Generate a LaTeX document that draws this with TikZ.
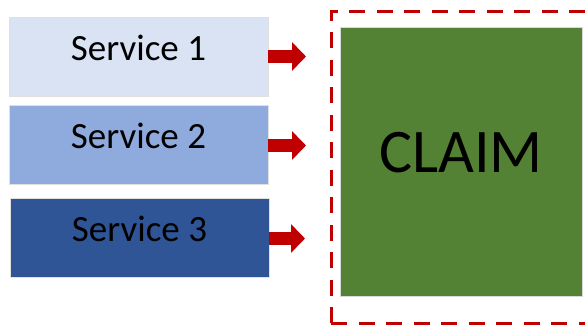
\documentclass[tikz,border=0pt]{standalone}
\usepackage{fontspec}
\setmainfont{Carlito}
\usetikzlibrary{arrows.meta,positioning}
\definecolor{servone}{HTML}{DAE3F3}
\definecolor{servtwo}{HTML}{8FAADC}
\definecolor{servthree}{HTML}{2F5597}
\definecolor{claimgreen}{HTML}{548235}
\definecolor{darkred}{HTML}{C00000}
\tikzstyle{serv}=[draw=white!88!black, line width=0.6pt, minimum width=259pt, minimum height=79pt, inner sep=0pt, text height=24pt, text depth=17pt, font=\fontsize{37}{40}\selectfont]
\tikzstyle{blk}=[draw=darkred, line width=13pt, -{Triangle[length=14pt,width=28pt]}]
\tikzstyle{frame}=[draw=darkred, line width=3pt, dash pattern=on 16pt off 11.5pt]

\begin{document}
\begin{tikzpicture}[x=1pt,y=-1pt]
	\clip (0,0) rectangle (585,325);
	\fill[white] (0,0) rectangle (585,325);
	\node[serv, fill=servone] (s1) at (138.5, 56.5) {Service 1};
	\node[serv, fill=servtwo] (s2) at (138.5, 144.5) {Service 2};
	\node[serv, fill=servthree] (s3) at (139.5, 237.5) {Service 3};
	\node[fill=claimgreen, draw=white!85!black, line width=0.6pt, minimum width=242pt, minimum height=269pt, inner sep=0pt, text height=40pt, text depth=19pt, font=\fontsize{62}{66}\selectfont] (claim) at (461, 161.5) {CLAIM};
	\draw[frame] (331,323) -- (331,11) -- (620,11);
	\draw[frame] (331,323) -- (620,323);
	\coordinate (e1) at (306, 56.5);
	\coordinate (e2) at (306, 145.5);
	\coordinate (e3) at (305, 238.5);
	\draw[blk] (s1.east) -- (e1);
	\draw[blk] ([yshift=-1pt]s2.east) -- (e2);
	\draw[blk] ([yshift=-1pt]s3.east) -- (e3);
\end{tikzpicture}
\end{document}
